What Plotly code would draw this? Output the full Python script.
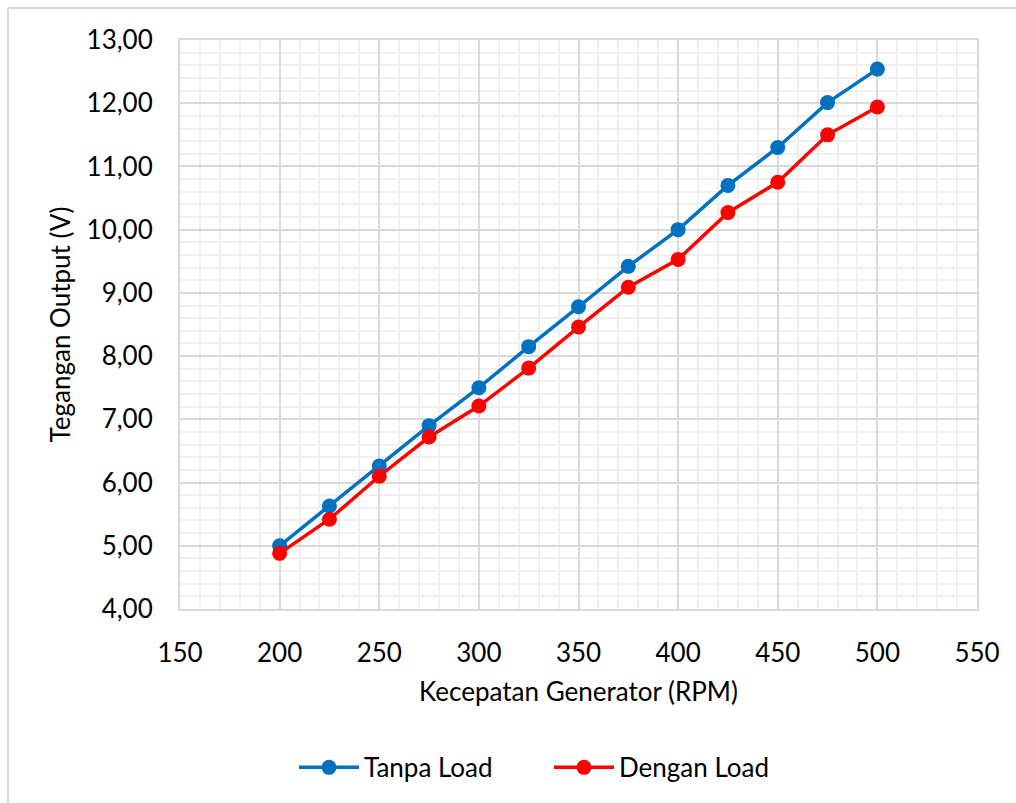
import plotly.graph_objects as go

rpm = [200, 225, 250, 275, 300, 325, 350, 375, 400, 425, 450, 475, 500]
tanpa_load = [5.00, 5.63, 6.26, 6.90, 7.50, 8.15, 8.78, 9.42, 10.00, 10.70, 11.30, 12.01, 12.54]
dengan_load = [4.88, 5.42, 6.10, 6.72, 7.21, 7.81, 8.46, 9.09, 9.53, 10.27, 10.75, 11.50, 11.94]

W, H = 1016, 803
L, R, T, B = 180, 977, 40, 611

fig = go.Figure()
fig.add_trace(go.Scatter(x=rpm, y=tanpa_load, mode="lines+markers", name="Tanpa Load",
                         line=dict(color="#0070C0", width=3.5),
                         marker=dict(color="#0070C0", size=15)))
fig.add_trace(go.Scatter(x=rpm, y=dengan_load, mode="lines+markers", name="Dengan Load",
                         line=dict(color="#FF0000", width=3.5),
                         marker=dict(color="#FF0000", size=15)))

font = "Lato, 'Open Sans', sans-serif"
FS = 26
axis_common = dict(showline=True, linecolor="#d9d9d9", linewidth=2, mirror=True,
                   gridcolor="#d9d9d9", gridwidth=1.5, zeroline=False, ticks="",
                   tickfont=dict(size=FS, color="#000", family=font))
fig.update_xaxes(range=[150, 550], dtick=50, tick0=150, ticklabelstandoff=20,
                 minor=dict(dtick=10, showgrid=True, gridcolor="#efefef", gridwidth=1.5),
                 title=dict(text="Kecepatan Generator (RPM)", font=dict(size=FS, family=font, color="#000"), standoff=16),
                 **axis_common)
fig.update_yaxes(range=[4, 13], dtick=1, tickformat=".2f", ticklabelstandoff=20,
                 minor=dict(dtick=0.2, showgrid=True, gridcolor="#efefef", gridwidth=1.5),
                 title=dict(text="Tegangan Output (V)", font=dict(size=FS, family=font, color="#000"), standoff=8),
                 **axis_common)

pw, ph = R - L, B - T
fig.add_shape(type="line", xref="paper", yref="paper",
              x0=(8 - L) / pw, x1=(1020 - L) / pw, y0=(B - 8) / ph, y1=(B - 8) / ph,
              line=dict(color="#d9d9d9", width=2))
fig.add_shape(type="line", xref="paper", yref="paper",
              x0=(8 - L) / pw, x1=(8 - L) / pw, y0=(B - 8) / ph, y1=(B - 810) / ph,
              line=dict(color="#d9d9d9", width=2))

fig.update_layout(
    width=W, height=H,
    margin=dict(l=L, r=W - R, t=T, b=H - B),
    separators=",.",
    paper_bgcolor="white", plot_bgcolor="white",
    font=dict(family=font, color="#000"),
    showlegend=True,
    legend=dict(orientation="h", x=(294 - L) / pw, xanchor="left", y=(B - 770) / ph, yanchor="middle",
                font=dict(size=FS, family=font, color="#000"), itemwidth=60,
                entrywidth=180, entrywidthmode="pixels"),
)

fig.write_html("out.html")
